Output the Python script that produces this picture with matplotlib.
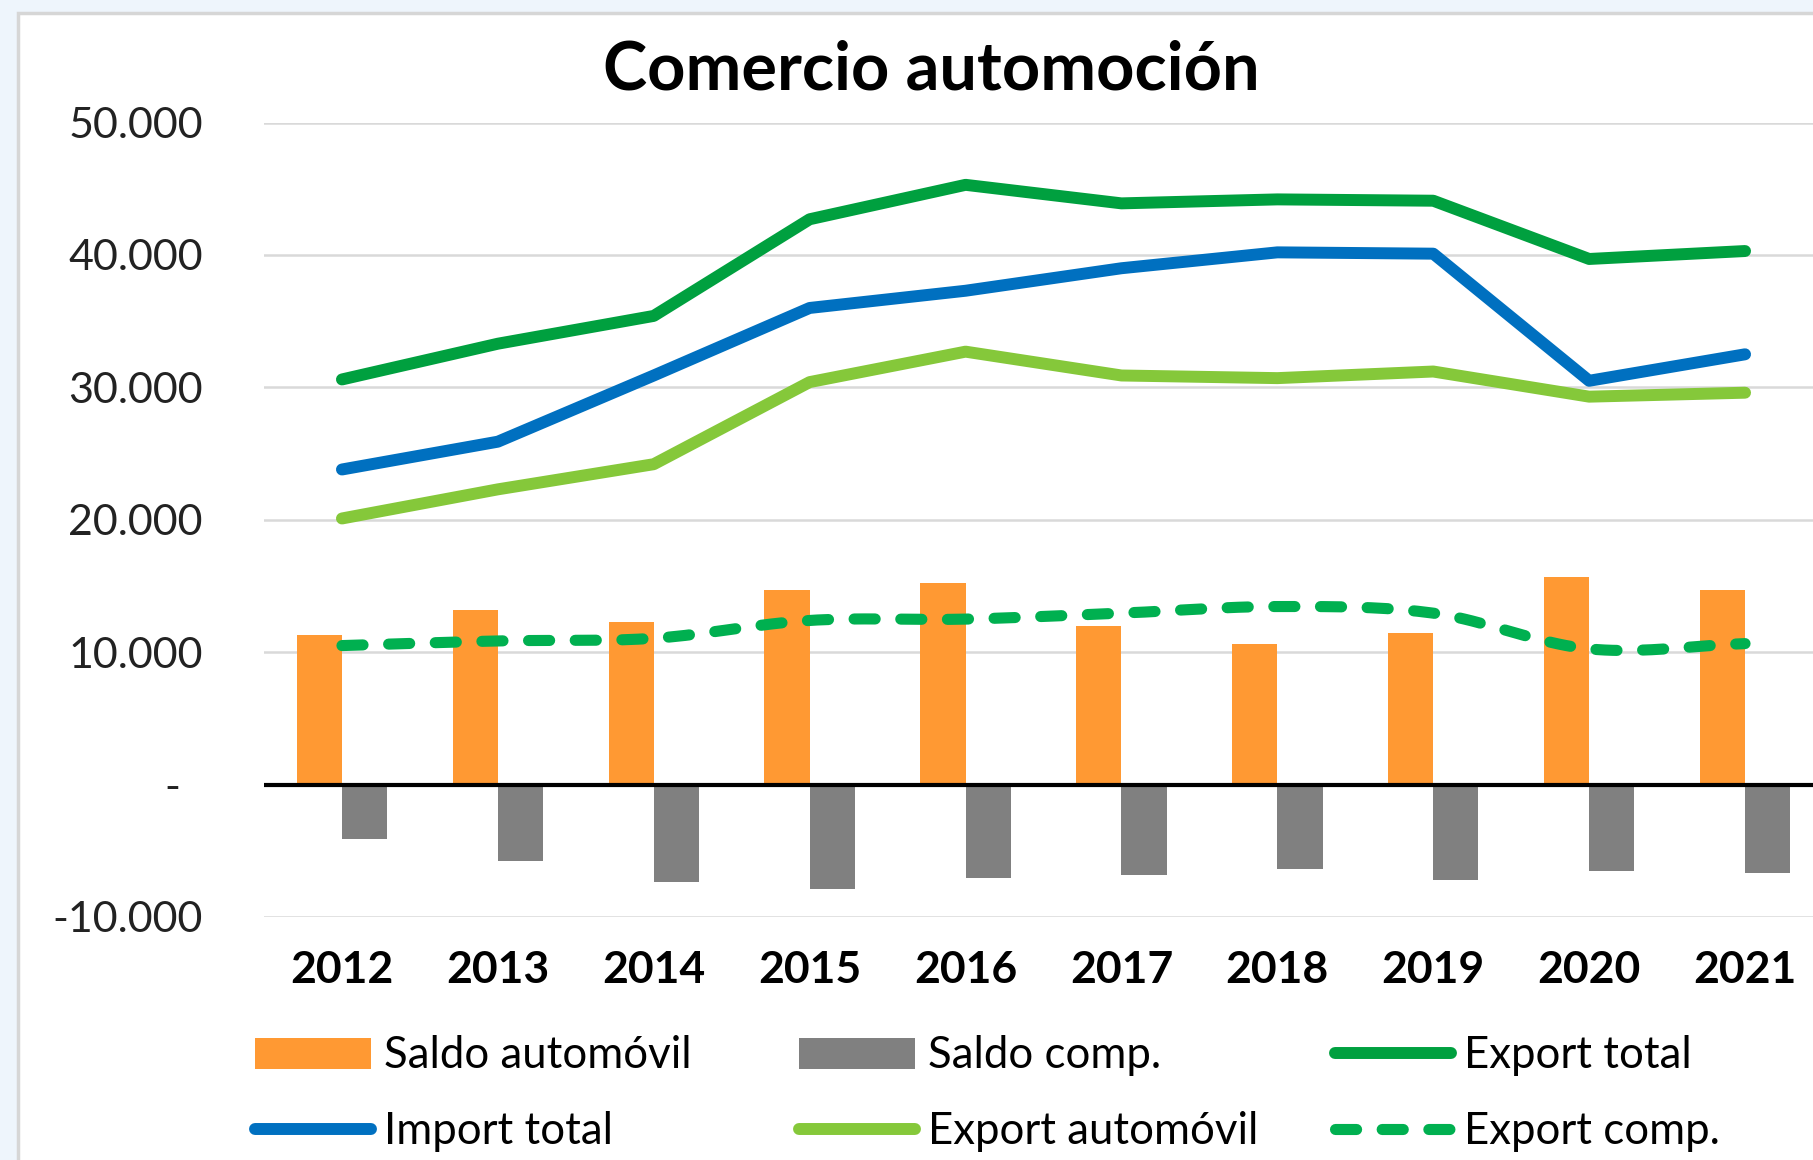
import matplotlib
matplotlib.use('Agg')
import matplotlib.pyplot as plt
from matplotlib.patches import Rectangle
import numpy as np

# datos (millones de euros)
anios = ['2012', '2013', '2014', '2015', '2016', '2017', '2018', '2019', '2020', '2021']
saldo_auto = [11300, 13200, 12250, 14700, 15200, 11950, 10600, 11450, 15700, 14700]
saldo_comp = [-4100, -5750, -7350, -7900, -7050, -6850, -6400, -7200, -6550, -6700]
export_total = [30600, 33300, 35400, 42700, 45300, 43900, 44200, 44100, 39700, 40300]
import_total = [23800, 25900, 30900, 36000, 37300, 39000, 40200, 40100, 30500, 32500]
export_auto = [20100, 22300, 24200, 30400, 32700, 30900, 30700, 31200, 29300, 29600]
export_comp = [10500, 10850, 11050, 12400, 12500, 12950, 13450, 12950, 10250, 10650]

yticks = [-10000, 0, 10000, 20000, 30000, 40000, 50000]
ytick_labels = ['-10.000', '-  ', '10.000', '20.000', '30.000', '40.000', '50.000']

c_naranja = '#FF9933'
c_gris = '#808080'
c_verde = '#00A03F'
c_azul = '#0070C0'
c_verde_claro = '#85C83A'
c_verde_disc = '#00B050'

plt.rcParams['font.family'] = ['Lato', 'DejaVu Sans']


def suavizar(xs, ys, n=20):
    # curva Catmull-Rom para imitar la linea suavizada de Excel
    xs = np.asarray(xs, float)
    ys = np.asarray(ys, float)
    px = np.concatenate([[2 * xs[0] - xs[1]], xs, [2 * xs[-1] - xs[-2]]])
    py = np.concatenate([[2 * ys[0] - ys[1]], ys, [2 * ys[-1] - ys[-2]]])
    ox, oy = [], []
    for i in range(1, len(px) - 2):
        t = np.linspace(0, 1, n, endpoint=False)
        for p, o in ((px, ox), (py, oy)):
            p0, p1, p2, p3 = p[i - 1], p[i], p[i + 1], p[i + 2]
            o.extend(0.5 * ((2 * p1) + (-p0 + p2) * t
                            + (2 * p0 - 5 * p1 + 4 * p2 - p3) * t ** 2
                            + (-p0 + 3 * p1 - 3 * p2 + p3) * t ** 3))
    ox.append(xs[-1])
    oy.append(ys[-1])
    return np.array(ox), np.array(oy)


W, H = 1813, 1160
fig = plt.figure(figsize=(W / 100, H / 100), dpi=100, facecolor='#EEF5FC')

# marco blanco del grafico
fig.patches.append(Rectangle((18 / W, -0.1), 1.2, 1 - 13 / H + 0.1, transform=fig.transFigure,
                             facecolor='white', edgecolor='#D6D6D6', linewidth=2.5, zorder=-5))

ax = fig.add_axes([264 / W, 1 - 917 / H, (1823 - 264) / W, (917 - 122.6) / H])
ax.set_facecolor('none')

x = np.arange(len(anios))
ancho = 0.29

b1 = ax.bar(x - ancho / 2, saldo_auto, ancho, color=c_naranja, zorder=2, label='Saldo automóvil')
b2 = ax.bar(x + ancho / 2, saldo_comp, ancho, color=c_gris, zorder=2, label='Saldo comp.')

lw = 8.6
estilo = dict(lw=lw, solid_capstyle='round', solid_joinstyle='round', zorder=4)
l1, = ax.plot(x, export_total, color=c_verde, label='Export total', **estilo)
l2, = ax.plot(x, import_total, color=c_azul, label='Import total', **estilo)
l3, = ax.plot(x, export_auto, color=c_verde_claro, label='Export automóvil', **estilo)
sx, sy = suavizar(x, export_comp)
l4, = ax.plot(sx, sy, color=c_verde_disc, lw=lw - 0.6, dashes=(1.9, 2.3), dash_capstyle='round',
              zorder=4, label='Export comp.')

ax.axhline(0, color='black', lw=3, zorder=3)

ax.set_xlim(-0.5, len(anios) - 0.5)
ax.set_ylim(-10000, 50000)
ax.set_yticks(yticks)
ax.set_yticklabels(ytick_labels)
ax.set_xticks(x)
ax.set_xticklabels(anios, fontweight='bold')
ax.tick_params(axis='y', length=0, pad=44, labelsize=31, labelcolor='#222222')
ax.tick_params(axis='x', length=0, pad=24, labelsize=32, labelcolor='black')
ax.grid(axis='y', color='#D9D9D9', lw=1.8, zorder=0)
ax.set_axisbelow(True)
for s in ax.spines.values():
    s.set_visible(False)

fig.text(931 / W, 1 - 71 / H, 'Comercio automoción', ha='center', va='center',
         fontsize=48, fontweight='bold')

# leyenda en tres columnas
columnas = [([b1, l2], ['Saldo automóvil', 'Import total']),
            ([b2, l3], ['Saldo comp.', 'Export automóvil']),
            ([l1, l4], ['Export total', 'Export comp.'])]
x_cols = [255, 799, 1335]
for (h, lab), xc in zip(columnas, x_cols):
    fig.legend(h, lab, loc='center left', bbox_to_anchor=(xc / W, 1 - 1094 / H),
               frameon=False, fontsize=31.5, handlelength=2.65, handletextpad=0.3,
               labelspacing=0.8, borderpad=0, borderaxespad=0)

fig.savefig('out.png', dpi=100, facecolor=fig.get_facecolor())
